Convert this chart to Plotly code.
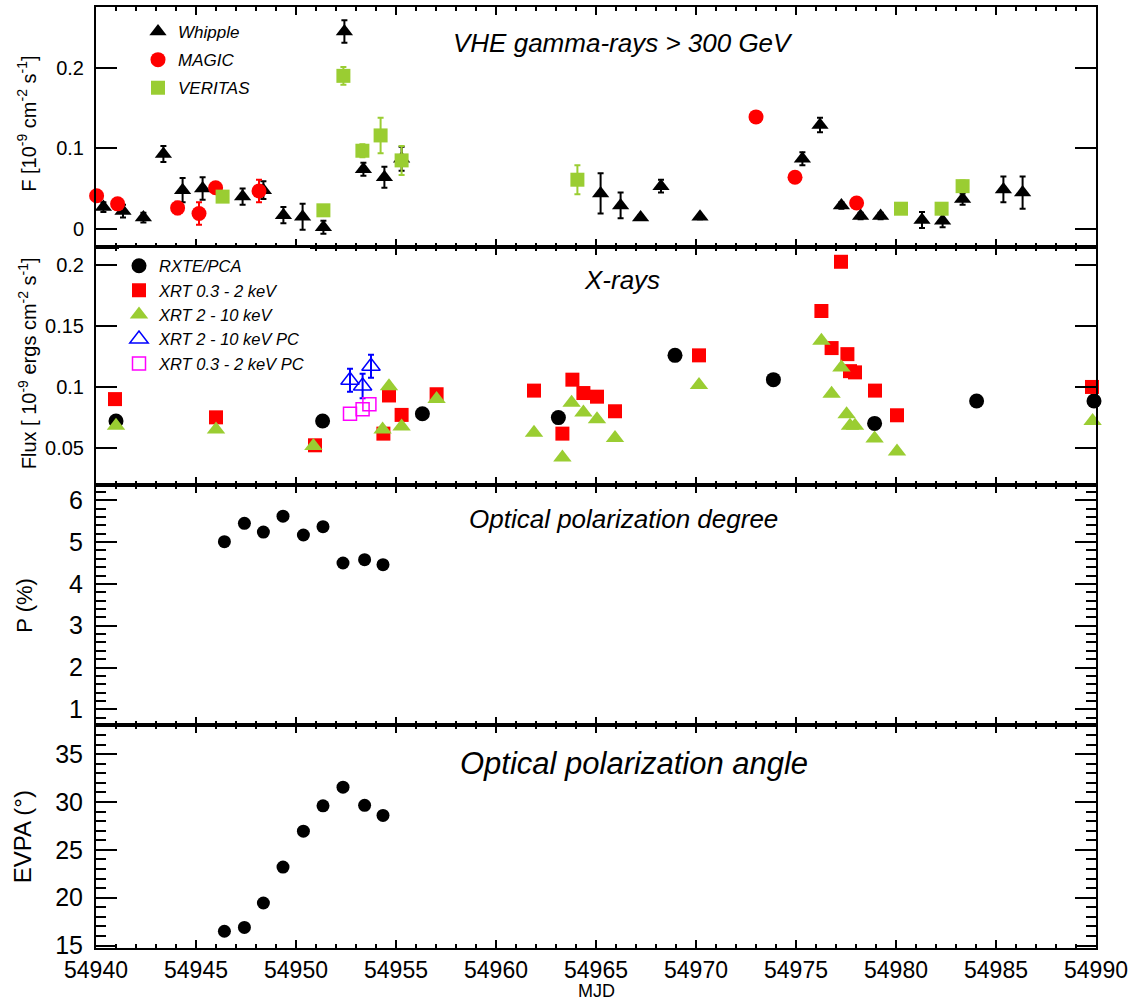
import plotly.graph_objects as go

# ---------------- VHE gamma-ray fluxes (> 300 GeV), 1e-9 cm^-2 s^-1 ----------------
whipple_mjd = [54940.37, 54941.35, 54942.37, 54943.37, 54944.33, 54945.33, 54947.33,
               54948.37, 54949.37, 54950.33, 54951.37, 54952.42, 54953.37, 54954.42,
               54955.28, 54965.23, 54966.23, 54967.23, 54968.25, 54970.20, 54975.32,
               54976.20, 54977.27, 54978.23, 54979.23, 54981.30, 54982.33, 54983.33,
               54985.37, 54986.33]
whipple_flux = [0.027, 0.022, 0.014, 0.093, 0.048, 0.050, 0.040, 0.048, 0.017, 0.015,
                0.002, 0.245, 0.074, 0.064, 0.087, 0.044, 0.029, 0.014, 0.053, 0.015,
                0.087, 0.129, 0.029, 0.016, 0.016, 0.011, 0.010, 0.037, 0.049, 0.045]
whipple_err = [0.006, 0.008, 0.006, 0.010, 0.015, 0.014, 0.010, 0.011, 0.010, 0.016,
               0.008, 0.014, 0.008, 0.013, 0.015, 0.025, 0.016, 0.003, 0.008, 0.003,
               0.008, 0.009, 0.004, 0.004, 0.004, 0.010, 0.008, 0.007, 0.016, 0.020]

magic_mjd = [54940.03, 54941.08, 54944.08, 54945.15, 54945.98, 54948.15, 54973.00,
             54974.95, 54978.03]
magic_flux = [0.041, 0.031, 0.026, 0.019, 0.051, 0.047, 0.139, 0.064, 0.032]
magic_err = [0.004, 0.004, 0.008, 0.014, 0.004, 0.014, 0.003, 0.003, 0.003]

veritas_mjd = [54946.33, 54951.37, 54952.37, 54953.32, 54954.23, 54955.28, 54964.07,
               54980.25, 54982.28, 54983.33]
veritas_flux = [0.040, 0.023, 0.190, 0.097, 0.116, 0.085, 0.061, 0.025, 0.025, 0.053]
veritas_err = [0.005, 0.003, 0.011, 0.008, 0.022, 0.018, 0.018, 0.003, 0.003, 0.007]

# ---------------- X-ray fluxes, 1e-9 erg cm^-2 s^-1 ----------------
rxte_mjd = [54941.00, 54951.33, 54956.32, 54963.12, 54968.95, 54973.87, 54978.93,
            54984.03, 54989.90]
rxte_flux = [0.072, 0.072, 0.078, 0.0748, 0.126, 0.106, 0.070, 0.0885, 0.0885]

xrt_soft_mjd = [54940.95, 54946.00, 54950.95, 54954.37, 54954.65, 54955.28, 54957.03,
                54961.90, 54963.32, 54963.82, 54964.37, 54965.05, 54965.95, 54970.15,
                54976.27, 54976.78, 54977.25, 54977.57, 54977.70, 54977.95, 54978.95,
                54980.05, 54989.80]
xrt_soft_flux = [0.090, 0.075, 0.052, 0.0616, 0.093, 0.077, 0.094, 0.097, 0.0616, 0.106,
                 0.095, 0.092, 0.080, 0.126, 0.1625, 0.132, 0.203, 0.127, 0.113, 0.112,
                 0.097, 0.0767, 0.100]

xrt_hard_mjd = [54941.00, 54946.00, 54950.87, 54954.33, 54954.65, 54955.28, 54957.03,
                54961.90, 54963.32, 54963.78, 54964.37, 54965.05, 54965.95, 54970.15,
                54976.27, 54976.78, 54977.27, 54977.53, 54977.70, 54977.95, 54978.93,
                54980.05, 54989.83]
xrt_hard_flux = [0.068, 0.065, 0.0515, 0.065, 0.1005, 0.0674, 0.090, 0.0624, 0.042, 0.087,
                 0.079, 0.0734, 0.058, 0.1016, 0.138, 0.0945, 0.116, 0.0775, 0.068, 0.068,
                 0.0575, 0.0468, 0.072]

pc_hard_mjd = [54952.70, 54953.33, 54953.75]
pc_hard_flux = [0.1055, 0.1008, 0.117]
pc_hard_err = [0.0095, 0.010, 0.0095]

pc_soft_mjd = [54952.70, 54953.33, 54953.67]
pc_soft_flux = [0.078, 0.0817, 0.0857]

# ---------------- Optical polarization ----------------
opt_mjd = [54946.42, 54947.42, 54948.37, 54949.35, 54950.37, 54951.35, 54952.35,
           54953.43, 54954.35]
pol_degree = [5.01, 5.45, 5.24, 5.62, 5.17, 5.37, 4.50, 4.58, 4.46]
pol_angle = [16.5, 16.9, 19.45, 23.2, 26.95, 29.6, 31.55, 29.65, 28.6]

RED = "#ff0000"
GREEN = "#9acd32"
BLUE = "#0000ff"
MAGENTA = "#ff00ff"
FONT = "Liberation Sans, Arial, Helvetica, sans-serif"

# Plot-area pixel geometry
TOP, BOTTOM, LEFT, WIDTH = 5, 948, 96, 1000


def errbar(vals, color):
    return dict(type="data", array=vals, visible=True, color=color,
                thickness=2, width=3)


fig = go.Figure()

# Panel 1: VHE gamma rays
fig.add_trace(go.Scatter(
    x=whipple_mjd, y=whipple_flux, mode="markers", name="<i>Whipple</i>",
    marker=dict(symbol="triangle-up", size=15, color="black"),
    error_y=errbar(whipple_err, "black"), xaxis="x", yaxis="y",
    legend="legend", legendgroup="w", cliponaxis=False))
fig.add_trace(go.Scatter(
    x=magic_mjd, y=magic_flux, mode="markers", name="<i>MAGIC</i>",
    marker=dict(symbol="circle", size=15, color=RED),
    error_y=errbar(magic_err, RED), xaxis="x", yaxis="y",
    legend="legend", legendgroup="m", cliponaxis=False))
fig.add_trace(go.Scatter(
    x=veritas_mjd, y=veritas_flux, mode="markers", name="<i>VERITAS</i>",
    marker=dict(symbol="square", size=14, color=GREEN),
    error_y=errbar(veritas_err, GREEN), xaxis="x", yaxis="y",
    legend="legend", legendgroup="v", cliponaxis=False))

# Panel 2: X-rays
fig.add_trace(go.Scatter(
    x=rxte_mjd, y=rxte_flux, mode="markers", name="<i>RXTE/PCA</i>",
    marker=dict(symbol="circle", size=15, color="black"),
    xaxis="x2", yaxis="y2", legend="legend2", legendgroup="r", cliponaxis=False))
fig.add_trace(go.Scatter(
    x=xrt_soft_mjd, y=xrt_soft_flux, mode="markers", name="<i>XRT 0.3 - 2 keV</i>",
    marker=dict(symbol="square", size=14, color=RED),
    xaxis="x2", yaxis="y2", legend="legend2", legendgroup="s", cliponaxis=False))
fig.add_trace(go.Scatter(
    x=xrt_hard_mjd, y=xrt_hard_flux, mode="markers", name="<i>XRT 2 - 10 keV</i>",
    marker=dict(symbol="triangle-up", size=16, color=GREEN),
    xaxis="x2", yaxis="y2", legend="legend2", legendgroup="h", cliponaxis=False))
fig.add_trace(go.Scatter(
    x=pc_hard_mjd, y=pc_hard_flux, mode="markers", name="<i>XRT 2 - 10 keV PC</i>",
    marker=dict(symbol="triangle-up-open", size=16, color=BLUE,
                line=dict(width=1.5, color=BLUE)),
    error_y=errbar(pc_hard_err, BLUE),
    xaxis="x2", yaxis="y2", legend="legend2", legendgroup="ph", cliponaxis=False))
fig.add_trace(go.Scatter(
    x=pc_soft_mjd, y=pc_soft_flux, mode="markers", name="<i>XRT 0.3 - 2 keV PC</i>",
    marker=dict(symbol="square-open", size=13, color=MAGENTA,
                line=dict(width=1.5, color=MAGENTA)),
    xaxis="x2", yaxis="y2", legend="legend2", legendgroup="ps", cliponaxis=False))

# Panel 3: optical polarization degree
fig.add_trace(go.Scatter(
    x=opt_mjd, y=pol_degree, mode="markers", showlegend=False,
    marker=dict(symbol="circle", size=13, color="black"),
    xaxis="x3", yaxis="y3", cliponaxis=False))

# Panel 4: optical polarization angle
fig.add_trace(go.Scatter(
    x=opt_mjd, y=pol_angle, mode="markers", showlegend=False,
    marker=dict(symbol="circle", size=13, color="black"),
    xaxis="x4", yaxis="y4", cliponaxis=False))


def ypaper(px):
    return (BOTTOM - px) / (BOTTOM - TOP)


def xpaper(px):
    return (px - LEFT) / WIDTH


# Panel boundaries (pixel rows of the dividers)
dom4 = [0.0, ypaper(724.3)]
dom3 = [ypaper(724.3), ypaper(484.3)]
dom2 = [ypaper(484.3), ypaper(245.7)]
dom1 = [ypaper(245.7), 1.0]


def xax(anchor, labels):
    return dict(range=[54940, 54990], anchor=anchor, showline=True, linecolor="black",
                linewidth=2, mirror="ticks", ticks="inside", ticklen=8, tickwidth=1.5,
                tickcolor="black", tick0=54940, dtick=5, showgrid=False, zeroline=False,
                showticklabels=labels, tickformat="d",
                tickfont=dict(size=23, color="black", family=FONT),
                minor=dict(dtick=1, ticks="inside", ticklen=4, tickwidth=1.5,
                           tickcolor="black", showgrid=False))


def yax(anchor, dom, rng, dtick, size, minor=None):
    d = dict(domain=dom, range=rng, anchor=anchor, showline=True, linecolor="black",
             linewidth=2, mirror="ticks", ticks="inside", ticklen=21, tickwidth=1.5,
             tickcolor="black", tick0=0, dtick=dtick, showgrid=False, zeroline=False,
             ticklabelstandoff=6,
             tickfont=dict(size=size, color="black", family=FONT))
    if minor is not None:
        d["minor"] = dict(dtick=minor, ticks="inside", ticklen=10, tickwidth=1.5,
                          tickcolor="black", showgrid=False)
    return d


annotations = [
    dict(text="<i>VHE gamma-rays > 300 GeV</i>", x=xpaper(623), y=ypaper(41),
         font=dict(size=26)),
    dict(text="<i>X-rays</i>", x=xpaper(622), y=ypaper(279), font=dict(size=26)),
    dict(text="<i>Optical polarization degree</i>", x=xpaper(623), y=ypaper(518),
         font=dict(size=26)),
    dict(text="<i>Optical polarization angle</i>", x=xpaper(634), y=ypaper(763),
         font=dict(size=31)),
    dict(text="F [10<sup>-9</sup> cm<sup>-2</sup> s<sup>-1</sup>]", x=xpaper(27),
         y=ypaper(122), textangle=-90, font=dict(size=20)),
    dict(text="Flux [ 10<sup>-9</sup> ergs cm<sup>-2</sup> s<sup>-1</sup>]", x=xpaper(27),
         y=ypaper(362), textangle=-90, font=dict(size=20)),
    dict(text="P (%)", x=xpaper(25), y=ypaper(605), textangle=-90, font=dict(size=22)),
    dict(text="EVPA (°)", x=xpaper(22), y=ypaper(837), textangle=-90,
         font=dict(size=24)),
    dict(text="MJD", x=xpaper(596), y=ypaper(1003), yanchor="bottom",
         font=dict(size=18)),
]
for a in annotations:
    a.setdefault("yanchor", "middle")
    a.update(xref="paper", yref="paper", showarrow=False, xanchor="center")
    a["font"].update(color="black", family=FONT)

fig.update_layout(
    width=1143, height=1003,
    margin=dict(l=LEFT, r=1143 - LEFT - WIDTH, t=TOP, b=1003 - BOTTOM),
    paper_bgcolor="white", plot_bgcolor="white",
    font=dict(family=FONT, color="black"),
    xaxis=xax("y", False), xaxis2=xax("y2", False),
    xaxis3=xax("y3", False), xaxis4=xax("y4", True),
    yaxis=yax("x", dom1, [-0.0228, 0.2755], 0.1, 20),
    yaxis2=yax("x2", dom2, [0.0191, 0.215], 0.05, 20),
    yaxis3=yax("x3", dom3, [0.63, 6.36], 1, 25, minor=0.2),
    yaxis4=yax("x4", dom4, [14.75, 38.07], 5, 25, minor=1),
    legend=dict(x=xpaper(138), y=ypaper(12), xanchor="left", yanchor="top",
                bgcolor="rgba(255,255,255,0)", font=dict(size=17, color="black"),
                tracegroupgap=3, itemclick=False),
    legend2=dict(x=xpaper(119), y=ypaper(247), xanchor="left", yanchor="top",
                 bgcolor="white", font=dict(size=16.5, color="black"),
                 tracegroupgap=0, itemclick=False),
    annotations=annotations,
    showlegend=True,
)

fig.write_html("out.html")
